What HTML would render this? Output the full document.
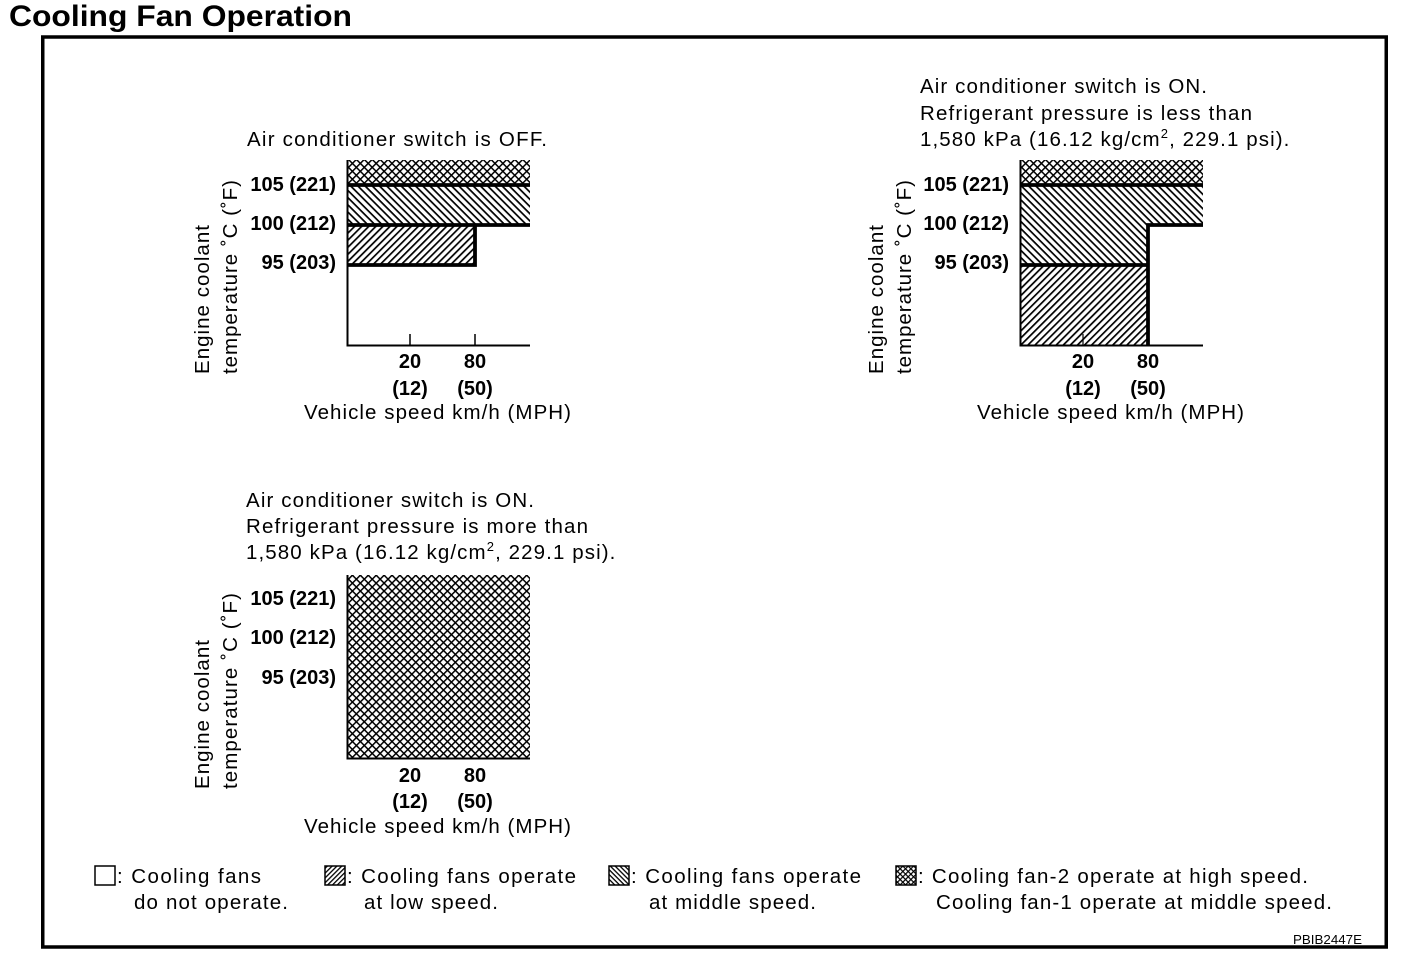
<!DOCTYPE html>
<html><head><meta charset="utf-8"><style>
html,body{margin:0;padding:0;background:#fff;}
svg{display:block;}
text{font-family:"Liberation Sans",Arial,sans-serif;fill:#000;}
.b{font-weight:bold;}
</style></head><body>
<svg width="1408" height="976" viewBox="0 0 1408 976" xmlns="http://www.w3.org/2000/svg">
<defs>
  <pattern id="low" patternUnits="userSpaceOnUse" width="8" height="5" patternTransform="rotate(-45)">
    <rect x="0" y="0" width="8" height="1.7" fill="#000"/>
  </pattern>
  <pattern id="mid" patternUnits="userSpaceOnUse" width="8" height="5.1" patternTransform="rotate(45)">
    <rect x="0" y="0" width="8" height="1.7" fill="#000"/>
  </pattern>
  <pattern id="cross" patternUnits="userSpaceOnUse" width="5.6" height="5.6" patternTransform="rotate(45)">
    <rect x="0" y="0" width="5.6" height="1.5" fill="#000"/>
    <rect x="0" y="0" width="1.5" height="5.6" fill="#000"/>
  </pattern>
  <pattern id="lowS" patternUnits="userSpaceOnUse" width="8" height="3.4" patternTransform="rotate(-45)">
    <rect x="0" y="0" width="8" height="1.3" fill="#000"/>
  </pattern>
  <pattern id="midS" patternUnits="userSpaceOnUse" width="8" height="3.4" patternTransform="rotate(45)">
    <rect x="0" y="0" width="8" height="1.3" fill="#000"/>
  </pattern>
  <pattern id="crossS" patternUnits="userSpaceOnUse" width="3.8" height="3.8" patternTransform="rotate(45)">
    <rect x="0" y="0" width="3.8" height="1.2" fill="#000"/>
    <rect x="0" y="0" width="1.2" height="3.8" fill="#000"/>
  </pattern>
</defs>

<rect width="1408" height="976" fill="#fff"/>

<!-- Title -->
<text x="9" y="26" class="b" font-size="30" textLength="343" lengthAdjust="spacingAndGlyphs">Cooling Fan Operation</text>

<!-- Outer box -->
<rect x="42.75" y="37" width="1343.5" height="910" fill="none" stroke="#000" stroke-width="3.5"/>

<!-- ============ Chart 1 ============ -->
<text x="247" y="146" font-size="20.5" textLength="300" lengthAdjust="spacing">Air conditioner switch is OFF.</text>
<rect x="347" y="160" width="183" height="25" fill="url(#cross)"/>
<rect x="347" y="185" width="183" height="40" fill="url(#mid)"/>
<rect x="347" y="225" width="128" height="40" fill="url(#low)"/>
<path d="M347,185 H530 M347,225 H530 M347,265 H475 V224" fill="none" stroke="#000" stroke-width="3.8"/>
<path d="M347.5,160 V345.5 H530" fill="none" stroke="#000" stroke-width="2"/>
<path d="M410,334 V345 M475,334 V345" fill="none" stroke="#000" stroke-width="1.5"/>
<text x="336" y="191" class="b" font-size="20" text-anchor="end">105 (221)</text>
<text x="336" y="230" class="b" font-size="20" text-anchor="end">100 (212)</text>
<text x="336" y="269" class="b" font-size="20" text-anchor="end">95 (203)</text>
<text x="410" y="368" class="b" font-size="20" text-anchor="middle">20</text>
<text x="475" y="368" class="b" font-size="20" text-anchor="middle">80</text>
<text x="410" y="395" class="b" font-size="20" text-anchor="middle">(12)</text>
<text x="475" y="395" class="b" font-size="20" text-anchor="middle">(50)</text>
<text x="304" y="419" font-size="20.5" textLength="267" lengthAdjust="spacing">Vehicle speed km/h (MPH)</text>
<text transform="translate(209,374) rotate(-90)" font-size="20.5" textLength="149" lengthAdjust="spacing">Engine coolant</text>
<text transform="translate(237,374) rotate(-90)" font-size="20.5" textLength="194" lengthAdjust="spacing">temperature ˚C (˚F)</text>

<!-- ============ Chart 2 ============ -->
<text x="920" y="93" font-size="20.5" textLength="287" lengthAdjust="spacing">Air conditioner switch is ON.</text>
<text x="920" y="120" font-size="20.5" textLength="332" lengthAdjust="spacing">Refrigerant pressure is less than</text>
<text x="920" y="146" font-size="20.5" letter-spacing="1.1">1,580 kPa (16.12 kg/cm<tspan font-size="13" dy="-8">2</tspan><tspan dy="8">, 229.1 psi).</tspan></text>
<rect x="1020" y="160" width="183" height="25" fill="url(#cross)"/>
<rect x="1020" y="185" width="183" height="40" fill="url(#mid)"/>
<rect x="1020" y="225" width="128" height="40" fill="url(#mid)"/>
<rect x="1020" y="265" width="128" height="80" fill="url(#low)"/>
<path d="M1020,185 H1203 M1148,346 V225 H1203 M1020,265 H1148" fill="none" stroke="#000" stroke-width="3.8"/>
<path d="M1020.5,160 V345.5 H1203" fill="none" stroke="#000" stroke-width="2"/>
<path d="M1083,334 V345" fill="none" stroke="#000" stroke-width="1.2"/>
<text x="1009" y="191" class="b" font-size="20" text-anchor="end">105 (221)</text>
<text x="1009" y="230" class="b" font-size="20" text-anchor="end">100 (212)</text>
<text x="1009" y="269" class="b" font-size="20" text-anchor="end">95 (203)</text>
<text x="1083" y="368" class="b" font-size="20" text-anchor="middle">20</text>
<text x="1148" y="368" class="b" font-size="20" text-anchor="middle">80</text>
<text x="1083" y="395" class="b" font-size="20" text-anchor="middle">(12)</text>
<text x="1148" y="395" class="b" font-size="20" text-anchor="middle">(50)</text>
<text x="977" y="419" font-size="20.5" textLength="267" lengthAdjust="spacing">Vehicle speed km/h (MPH)</text>
<text transform="translate(883,374) rotate(-90)" font-size="20.5" textLength="149" lengthAdjust="spacing">Engine coolant</text>
<text transform="translate(911,374) rotate(-90)" font-size="20.5" textLength="194" lengthAdjust="spacing">temperature ˚C (˚F)</text>

<!-- ============ Chart 3 ============ -->
<text x="246" y="507" font-size="20.5" textLength="288" lengthAdjust="spacing">Air conditioner switch is ON.</text>
<text x="246" y="533" font-size="20.5" textLength="342" lengthAdjust="spacing">Refrigerant pressure is more than</text>
<text x="246" y="559" font-size="20.5" letter-spacing="1.1">1,580 kPa (16.12 kg/cm<tspan font-size="13" dy="-8">2</tspan><tspan dy="8">, 229.1 psi).</tspan></text>
<rect x="347" y="575" width="183" height="184" fill="url(#cross)"/>
<path d="M347.5,575 V758.5 H530" fill="none" stroke="#000" stroke-width="2"/>
<text x="336" y="605" class="b" font-size="20" text-anchor="end">105 (221)</text>
<text x="336" y="644" class="b" font-size="20" text-anchor="end">100 (212)</text>
<text x="336" y="684" class="b" font-size="20" text-anchor="end">95 (203)</text>
<text x="410" y="782" class="b" font-size="20" text-anchor="middle">20</text>
<text x="475" y="782" class="b" font-size="20" text-anchor="middle">80</text>
<text x="410" y="808" class="b" font-size="20" text-anchor="middle">(12)</text>
<text x="475" y="808" class="b" font-size="20" text-anchor="middle">(50)</text>
<text x="304" y="833" font-size="20.5" textLength="267" lengthAdjust="spacing">Vehicle speed km/h (MPH)</text>
<text transform="translate(209,789) rotate(-90)" font-size="20.5" textLength="149" lengthAdjust="spacing">Engine coolant</text>
<text transform="translate(237,789) rotate(-90)" font-size="20.5" textLength="196" lengthAdjust="spacing">temperature ˚C (˚F)</text>

<!-- ============ Legend ============ -->
<rect x="95" y="866" width="20" height="19" fill="#fff" stroke="#000" stroke-width="1.5"/>
<text x="117" y="883" font-size="20.5" textLength="144" lengthAdjust="spacing">: Cooling fans</text>
<text x="134" y="909" font-size="20.5" textLength="154" lengthAdjust="spacing">do not operate.</text>

<rect x="325" y="866" width="20" height="19" fill="url(#lowS)" stroke="#000" stroke-width="1.5"/>
<text x="347" y="883" font-size="20.5" textLength="229" lengthAdjust="spacing">: Cooling fans operate</text>
<text x="364" y="909" font-size="20.5" textLength="134" lengthAdjust="spacing">at low speed.</text>

<rect x="609" y="866" width="20" height="19" fill="url(#midS)" stroke="#000" stroke-width="1.5"/>
<text x="631" y="883" font-size="20.5" textLength="230" lengthAdjust="spacing">: Cooling fans operate</text>
<text x="649" y="909" font-size="20.5" textLength="167" lengthAdjust="spacing">at middle speed.</text>

<rect x="896" y="866" width="20" height="19" fill="url(#crossS)" stroke="#000" stroke-width="1.5"/>
<text x="918" y="883" font-size="20.5" textLength="390" lengthAdjust="spacing">: Cooling fan-2 operate at high speed.</text>
<text x="936" y="909" font-size="20.5" textLength="396" lengthAdjust="spacing">Cooling fan-1 operate at middle speed.</text>

<text x="1293" y="944" font-size="13" textLength="69" lengthAdjust="spacingAndGlyphs">PBIB2447E</text>
</svg>
</body></html>
